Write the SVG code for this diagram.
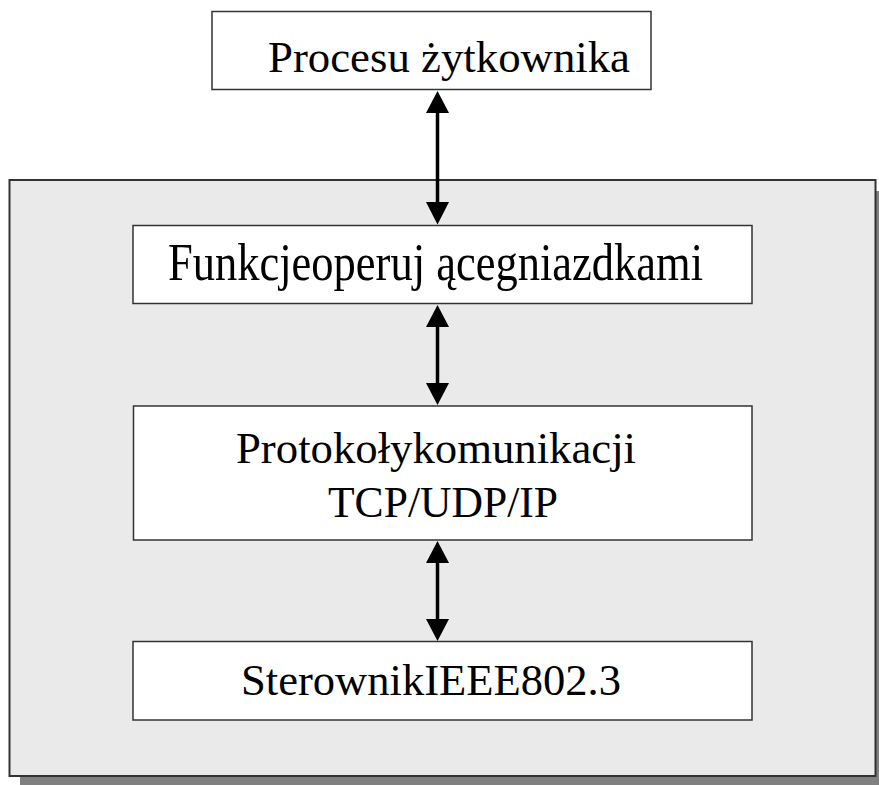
<svg xmlns="http://www.w3.org/2000/svg" width="879" height="785" viewBox="0 0 879 785">
<defs>
<style>
.box{fill:#ffffff;stroke:#333333;stroke-width:1.5}
.lbl{font-family:"Liberation Serif","Times New Roman",serif;fill:#000000}
.conn{stroke:#000000;stroke-width:3.5;fill:none}
.head{fill:#000000}
</style>
</defs>
<rect width="879" height="785" fill="#ffffff"/>
<g id="container">
<rect x="20" y="191" width="866" height="596" fill="#808080"/>
<rect x="9.5" y="180" width="866" height="596" fill="#eaeaea" stroke="#333333" stroke-width="2"/>
</g>
<g id="connectors">
<line class="conn" x1="437.5" y1="110" x2="437.5" y2="205"/>
<polygon class="head" points="437.5,91 426,113 449,113"/>
<polygon class="head" points="437.5,224.5 426,202 449,202"/>
<line class="conn" x1="437.5" y1="324" x2="437.5" y2="386"/>
<polygon class="head" points="437.5,305 426,327 449,327"/>
<polygon class="head" points="437.5,405 426,383 449,383"/>
<line class="conn" x1="437.5" y1="560" x2="437.5" y2="622"/>
<polygon class="head" points="437.5,541 426,563 449,563"/>
<polygon class="head" points="437.5,641 426,619 449,619"/>
</g>
<g id="node-procesu">
<rect class="box" x="212" y="11.5" width="439" height="78"/>
<text class="lbl" x="268" y="72" font-size="44" textLength="362" lengthAdjust="spacingAndGlyphs">Procesu żytkownika</text>
</g>
<g id="node-funkcje">
<rect class="box" x="133" y="225.5" width="619" height="78"/>
<text class="lbl" x="168" y="280" font-size="52" textLength="535" lengthAdjust="spacingAndGlyphs">Funkcjeoperuj ącegniazdkami</text>
</g>
<g id="node-protokoly">
<rect class="box" x="133.5" y="406" width="618.5" height="134"/>
<text class="lbl" x="236" y="463" font-size="45" textLength="400" lengthAdjust="spacingAndGlyphs">Protokołykomunikacji</text>
<text class="lbl" x="328" y="517" font-size="45" textLength="230" lengthAdjust="spacingAndGlyphs">TCP/UDP/IP</text>
</g>
<g id="node-sterownik">
<rect class="box" x="133" y="641.5" width="619" height="78.5"/>
<text class="lbl" x="241" y="695" font-size="45" textLength="380" lengthAdjust="spacingAndGlyphs">SterownikIEEE802.3</text>
</g>
</svg>
